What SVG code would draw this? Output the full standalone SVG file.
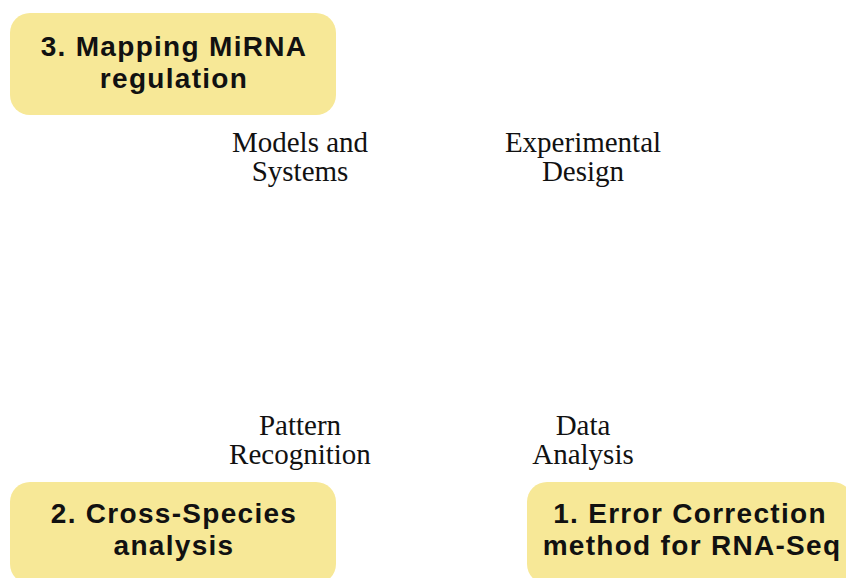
<svg xmlns="http://www.w3.org/2000/svg" width="846" height="578" viewBox="0 0 846 578">
  <style>
    .box { fill: #F7E897; }
    .bt { font-family: "Liberation Sans", Arial, sans-serif; font-weight: bold; font-size: 28px; letter-spacing: 1.3px; fill: #111; text-anchor: middle; }
    .lbl { font-family: "Liberation Serif", "Times New Roman", serif; font-size: 29px; fill: #111; text-anchor: middle; }
  </style>
  <rect width="846" height="578" fill="#ffffff"/>
  <g id="node3">
    <rect class="box" x="10" y="13" width="326" height="102" rx="20" ry="20"/>
    <text class="bt" x="174" y="56">3. Mapping MiRNA</text>
    <text class="bt" x="174" y="88">regulation</text>
  </g>
  <g id="node2">
    <rect class="box" x="10" y="482" width="326" height="102" rx="20" ry="20"/>
    <text class="bt" x="174" y="523">2. Cross-Species</text>
    <text class="bt" x="174" y="555">analysis</text>
  </g>
  <g id="node1">
    <rect class="box" x="527" y="482" width="326" height="102" rx="20" ry="20"/>
    <text class="bt" x="690" y="523">1. Error Correction</text>
    <text class="bt" x="692" y="555">method for RNA-Seq</text>
  </g>
  <g id="connectors">
    <text class="lbl" x="300" y="152">Models and</text>
    <text class="lbl" x="300" y="181">Systems</text>
    <text class="lbl" x="583" y="152">Experimental</text>
    <text class="lbl" x="583" y="181">Design</text>
    <text class="lbl" x="300" y="435">Pattern</text>
    <text class="lbl" x="300" y="464">Recognition</text>
    <text class="lbl" x="583" y="435">Data</text>
    <text class="lbl" x="583" y="464">Analysis</text>
  </g>
</svg>
